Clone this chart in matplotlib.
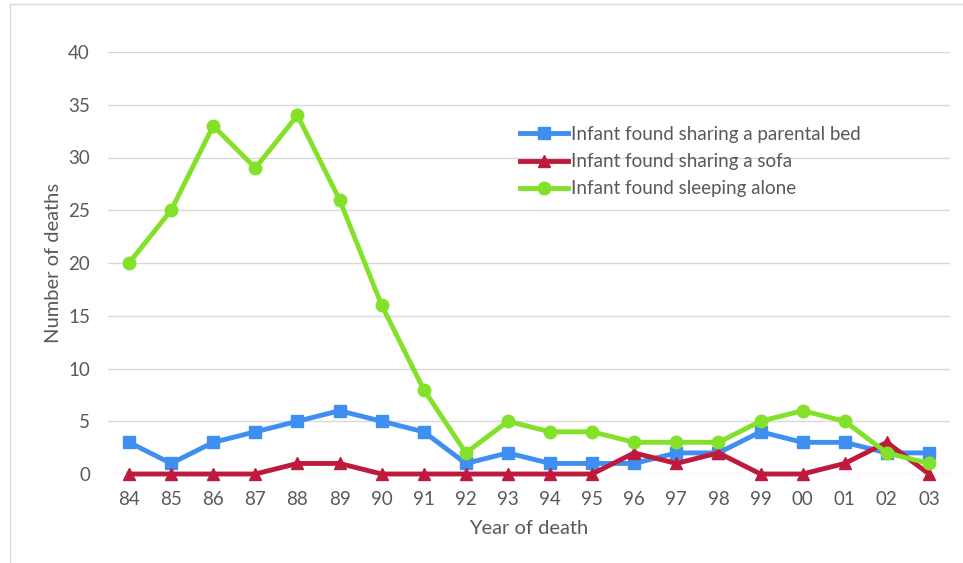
import matplotlib.pyplot as plt
from matplotlib.patches import Rectangle

years = ['84', '85', '86', '87', '88', '89', '90', '91', '92', '93',
         '94', '95', '96', '97', '98', '99', '00', '01', '02', '03']
parental_bed = [3, 1, 3, 4, 5, 6, 5, 4, 1, 2, 1, 1, 1, 2, 2, 4, 3, 3, 2, 2]
sofa = [0, 0, 0, 0, 1, 1, 0, 0, 0, 0, 0, 0, 2, 1, 2, 0, 0, 1, 3, 0]
alone = [20, 25, 33, 29, 34, 26, 16, 8, 2, 5, 4, 4, 3, 3, 3, 5, 6, 5, 2, 1]

plt.rcParams['font.family'] = ['Lato', 'DejaVu Sans']
grey = '#595959'

fig = plt.figure(figsize=(9.63, 5.63), dpi=100)
fig.patches.append(Rectangle((10 / 963, -0.01), 1.0, 1 - 4 / 563 + 0.01,
                             transform=fig.transFigure, fill=False,
                             edgecolor='#d9d9d9', linewidth=1))
ax = fig.add_axes([108 / 963, 1 - 474 / 563, 842 / 963, 422 / 563])

x = range(len(years))
ax.plot(x, parental_bed, color='#3f8ff0', lw=3.5, marker='s', ms=9,
        clip_on=False, label='Infant found sharing a parental bed')
ax.plot(x, sofa, color='#be1a3d', lw=3.5, marker='^', ms=9,
        clip_on=False, label='Infant found sharing a sofa')
ax.plot(x, alone, color='#84e12a', lw=3.5, marker='o', ms=9,
        clip_on=False, label='Infant found sleeping alone')

ax.set_xlim(-0.5, len(years) - 0.5)
ax.set_ylim(0, 40)
ax.set_xticks(list(x))
ax.set_xticklabels(years)
ax.set_yticks(range(0, 41, 5))
ax.yaxis.grid(True, color='#d9d9d9', lw=1)
ax.set_axisbelow(True)
for s in ax.spines.values():
    s.set_visible(False)
ax.tick_params(length=0, colors=grey, labelsize=13.5, pad=12)
ax.tick_params(axis='y', pad=13)
ax.set_xlabel('Year of death', fontsize=14.5, color=grey, labelpad=9)
ax.set_ylabel('Number of deaths', fontsize=14.5, color=grey, labelpad=4)

leg = ax.legend(loc='upper left', bbox_to_anchor=(0.480, 0.843), frameon=False,
                fontsize=13.5, handlelength=2.6, handletextpad=0.15,
                labelspacing=0.55, borderaxespad=0)
for t in leg.get_texts():
    t.set_color(grey)

plt.savefig('out.png', dpi=100)
